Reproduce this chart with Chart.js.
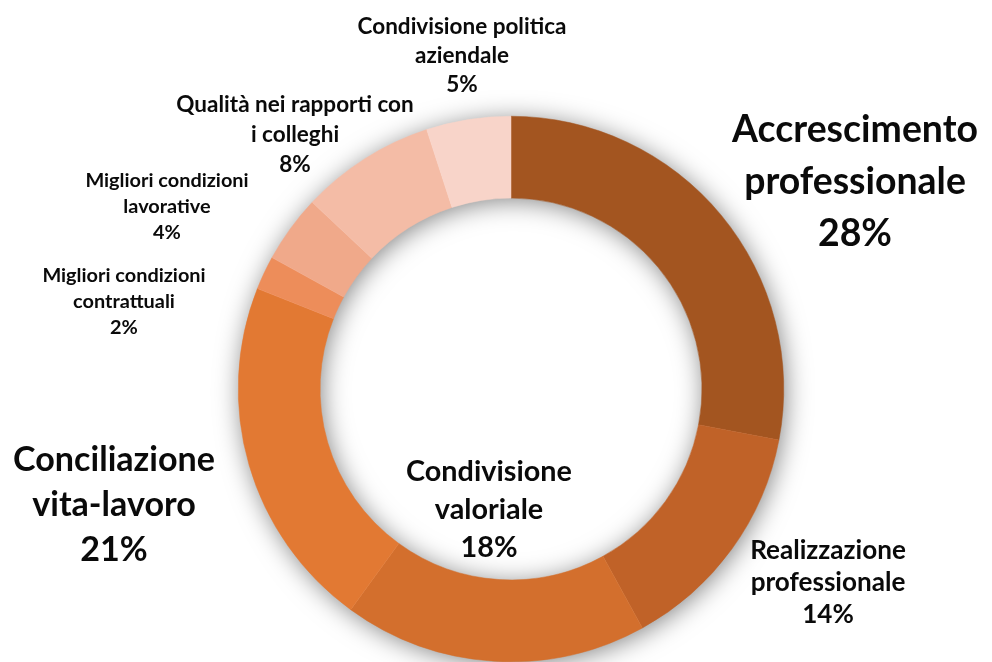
<!DOCTYPE html>
<html>
<head>
<meta charset="utf-8">
<script src="https://cdn.jsdelivr.net/npm/chart.js@4"></script>
<style>
  html, body { margin: 0; padding: 0; background: #fff; }
  #wrap { width: 992px; height: 662px; }
</style>
</head>
<body>
<div id="wrap"><canvas id="donut"></canvas></div>
<script>
// Data
const categories = [
    ['Accrescimento', 'professionale'],
    ['Realizzazione', 'professionale'],
    ['Condivisione', 'valoriale'],
    ['Conciliazione', 'vita-lavoro'],
    ['Migliori condizioni', 'contrattuali'],
    ['Migliori condizioni', 'lavorative'],
    ['Qualità nei rapporti con', 'i colleghi'],
    ['Condivisione politica', 'aziendale']
];
const shares = [28, 14, 18, 21, 2, 4, 8, 5];
const sliceColors = ['#A35520', '#C06228', '#D36F2D', '#E27933', '#ED8D5A', '#F0A98A', '#F4BCA6', '#F8D4C9'];

// label placement: centre x, first line y, line step, target width of widest line
const labelLayout = [
    { x: 855, y: 130, step: 52, w: 246 },
    { x: 828, y: 551, step: 32, w: 156 },
    { x: 489, y: 472, step: 38, w: 166 },
    { x: 114, y: 460, step: 45, w: 202 },
    { x: 124, y: 276, step: 26, w: 163 },
    { x: 167, y: 181, step: 26, w: 163 },
    { x: 295, y: 105, step: 30, w: 237 },
    { x: 462, y: 27,  step: 29, w: 209 }
];
const FONT = 'Lato, "Open Sans", sans-serif';

// soft shadow under the whole ring
const ringShadow = {
    id: 'ringShadow',
    beforeDatasetsDraw(chart) {
        const arc = chart.getDatasetMeta(0).data[0];
        if (!arc) return;
        const ctx = chart.ctx;
        ctx.save();
        ctx.shadowColor = 'rgba(0,0,0,0.5)';
        ctx.shadowBlur = 26;
        ctx.shadowOffsetX = 2;
        ctx.shadowOffsetY = 3;
        ctx.fillStyle = '#fff';
        ctx.beginPath();
        ctx.arc(arc.x, arc.y, arc.outerRadius - 1, 0, Math.PI * 2);
        ctx.arc(arc.x, arc.y, arc.innerRadius + 1, 0, Math.PI * 2, true);
        ctx.fill();
        ctx.restore();
    }
};

// category + percent labels
const sliceLabels = {
    id: 'sliceLabels',
    afterDatasetsDraw(chart) {
        const ctx = chart.ctx;
        const total = shares.reduce((a, b) => a + b, 0);
        ctx.save();
        ctx.fillStyle = '#0a0a0a';
        ctx.textAlign = 'center';
        ctx.textBaseline = 'middle';
        categories.forEach((lines, i) => {
            const lay = labelLayout[i];
            const all = lines.concat([Math.round(shares[i] / total * 100) + '%']);
            // fit font size to the target width
            ctx.font = 'bold 100px ' + FONT;
            const widest = Math.max(...lines.map(l => ctx.measureText(l).width));
            const size = 100 * lay.w / widest;
            ctx.font = 'bold ' + size.toFixed(1) + 'px ' + FONT;
            all.forEach((txt, j) => {
                ctx.fillText(txt, lay.x, lay.y + j * lay.step);
            });
        });
        ctx.restore();
    }
};

new Chart(document.getElementById('donut'), {
    type: 'doughnut',
    data: {
        labels: categories.map(c => c.join(' ')),
        datasets: [{
            data: shares,
            backgroundColor: sliceColors,
            borderColor: sliceColors,
            borderWidth: 0.5
        }]
    },
    options: {
        responsive: true,
        maintainAspectRatio: false,
        animation: false,
        cutout: '70%',
        layout: {
            padding: { top: 116, bottom: 0, left: 238, right: 208 }
        },
        plugins: {
            legend: { display: false },
            tooltip: { enabled: false }
        }
    },
    plugins: [ringShadow, sliceLabels]
});
</script>
</body>
</html>
